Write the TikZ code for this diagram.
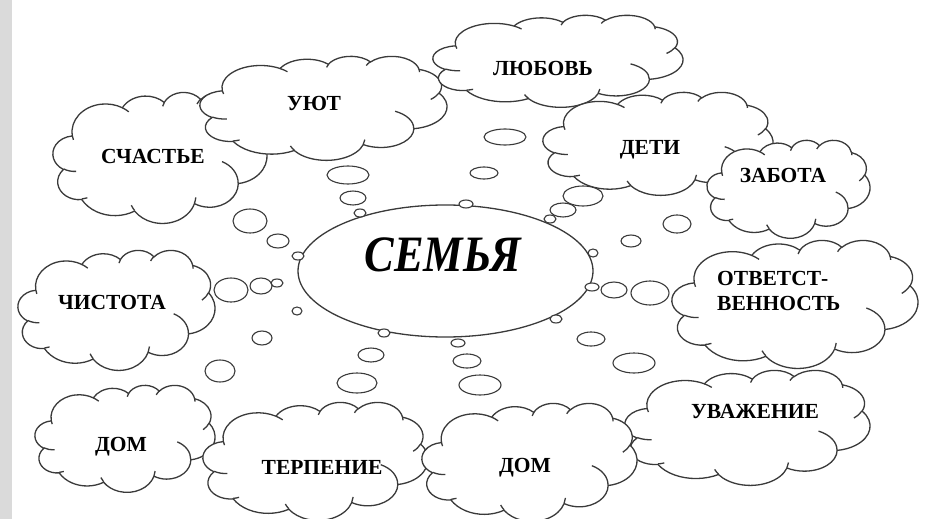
\documentclass[tikz,border=0pt]{standalone}
\usepackage{fontspec}
\setmainfont{Liberation Serif}
\usetikzlibrary{shapes.geometric}

\definecolor{linegray}{HTML}{3A3A3A}
\definecolor{bandgray}{HTML}{DADADA}

\tikzset{
  cloudline/.style={draw=linegray, line width=1.3pt},
  % a thought cloud in a 432 x 432 box, scaled to #1 x #2
  pics/wordcloud/.style 2 args={code={
    \begin{scope}[xscale=#1/432, yscale=#2/432]
    \draw[cloudline, fill=white] (39,143.7)
      arc[start angle=-187.75, delta angle=128.11, x radius=67.53, y radius=91.90]
      arc[start angle=-152.02, delta angle=106.57, x radius=53.33, y radius=72.67]
      arc[start angle=-153.49, delta angle=116.16, x radius=43.65, y radius=59.45]
      arc[start angle=-139.72, delta angle=129.50, x radius=48.57, y radius=65.95]
      arc[start angle=-74.77, delta angle=97.98, x radius=53.33, y radius=72.73]
      arc[start angle=-37.53, delta angle=119.39, x radius=67.75, y radius=92.20]
      arc[start angle=0.46, delta angle=121.52, x radius=57.85, y radius=78.67]
      arc[start angle=16.84, delta angle=129.39, x radius=67.52, y radius=92.15]
      arc[start angle=58.98, delta angle=91.20, x radius=77.20, y radius=105.43]
      arc[start angle=83.31, delta angle=139.81, x radius=43.60, y radius=59.18]
      arc[start angle=120.36, delta angle=143.75, x radius=43.45, y radius=59.45]
      -- cycle;
    \draw[cloudline]
      (46.93,261.77) arc[start angle=85.54, delta angle=34.82, x radius=43.45, y radius=59.45]
      (69.28,348.99) arc[start angle=68.23, delta angle=15.08, x radius=43.60, y radius=59.18]
      (164.78,390.90) arc[start angle=146.23, delta angle=12.24, x radius=67.52, y radius=92.15]
      (288.27,347.51) arc[start angle=4.74, delta angle=12.10, x radius=67.52, y radius=92.15]
      (341.29,229.54) arc[start angle=-64.03, delta angle=64.49, x radius=57.85, y radius=78.67]
      (417.98,153.54) arc[start angle=23.21, delta angle=26.43, x radius=53.33, y radius=72.73]
      (383.24,54.26) arc[start angle=-10.22, delta angle=11.04, x radius=48.57, y radius=65.95]
      (290.78,39.52) arc[start angle=-156.29, delta angle=16.57, x radius=48.57, y radius=65.95]
      (221.41,47.20) arc[start angle=-167.72, delta angle=14.23, x radius=43.65, y radius=59.45]
      (140.00,51.92) arc[start angle=-59.64, delta angle=13.90, x radius=67.53, y radius=91.90]
      (41.27,157.89) arc[start angle=163.19, delta angle=9.06, x radius=67.53, y radius=91.90];
    \end{scope}
  }}
}

\begin{document}
\begin{tikzpicture}[x=1pt,y=-1pt,
  word/.style={font=\fontsize{21.5}{25}\selectfont\bfseries, inner sep=0pt},
  bubble/.style={draw=linegray, line width=1.1pt, fill=white}]
\useasboundingbox (0,0) rectangle (929,519);
\fill[bandgray] (0,0) rectangle (12,519);

% clouds, placed by their top left corner
\pic (cl_schastye)	at (53,92)	{wordcloud={214}{131}};
\pic (cl_uyut)	at (200,56)	{wordcloud={247}{104}};
\pic (cl_lyubov)	at (433,15)	{wordcloud={250}{92}};
\pic (cl_deti)	at (543,92)	{wordcloud={230}{103}};
\pic (cl_zabota)	at (707,140)	{wordcloud={163}{98}};
\pic (cl_chistota)	at (18,250)	{wordcloud={197}{120}};
\pic (cl_otvet)	at (672,240)	{wordcloud={246}{128}};
\pic (cl_dom1)	at (35,385)	{wordcloud={180}{107}};
\pic (cl_terpenie)	at (203,402)	{wordcloud={225}{118}};
\pic (cl_uvazhenie)	at (625,370)	{wordcloud={245}{115}};
\pic (cl_dom2)	at (422,403)	{wordcloud={215}{118}};

% words
\node(w_schastye)	[word] at (153,156) {СЧАСТЬЕ};
\node(w_uyut)	[word] at (314,103) {УЮТ};
\node(w_lyubov)	[word] at (543,68) {ЛЮБОВЬ};
\node(w_deti)	[word] at (650,150) {ДЕТИ};
\node(w_zabota)	[word] at (783,175) {ЗАБОТА};
\node(w_chistota)	[word] at (112,302) {ЧИСТОТА};
\node(w_otvet)	[word, align=left, anchor=west] at (717,291) {ОТВЕТСТ-\\ВЕННОСТЬ};
\node(w_dom1)	[word] at (121,447) {ДОМ};
\node(w_terpenie)	[word] at (322,467) {ТЕРПЕНИЕ};
\node(w_dom2)	[word] at (525,468) {ДОМ};
\node(w_uvazhenie)	[word] at (755,412) {УВАЖЕНИЕ};

% centre
\node(semya)	[ellipse, draw=linegray, line width=1.3pt, fill=white, inner sep=0pt,
  minimum width=295pt, minimum height=132pt] at (445.5,271) {};
\node(w_semya)	[inner sep=0pt, font=\fontsize{51}{51}\selectfont\bfseries\itshape] at (443,255) {\scalebox{0.87}[1]{СЕМЬЯ}};

% bubbles: x/y/x radius/y radius
\foreach \bx/\by/\rx/\ry in {348/175/21/9, 353/198/13/7, 360/213/6/4,
	250/221/17/12, 278/241/11/7, 298/256/6/4,
	231/290/17/12, 261/286/11/8, 277/283/6/4,
	297/311/5/4, 262/338/10/7, 220/371/15/11,
	384/333/6/4, 371/355/13/7, 357/383/20/10,
	458/343/7/4, 467/361/14/7, 480/385/21/10,
	556/319/6/4, 591/339/14/7, 634/363/21/10,
	592/287/7/4, 614/290/13/8, 650/293/19/12,
	593/253/5/4, 631/241/10/6, 677/224/14/9,
	550/219/6/4, 563/210/13/7, 583/196/20/10,
	466/204/7/4, 484/173/14/6, 505/137/21/8} {
	\draw [bubble] (\bx,\by) ellipse [x radius=\rx, y radius=\ry];
}

\end{tikzpicture}
\end{document}
